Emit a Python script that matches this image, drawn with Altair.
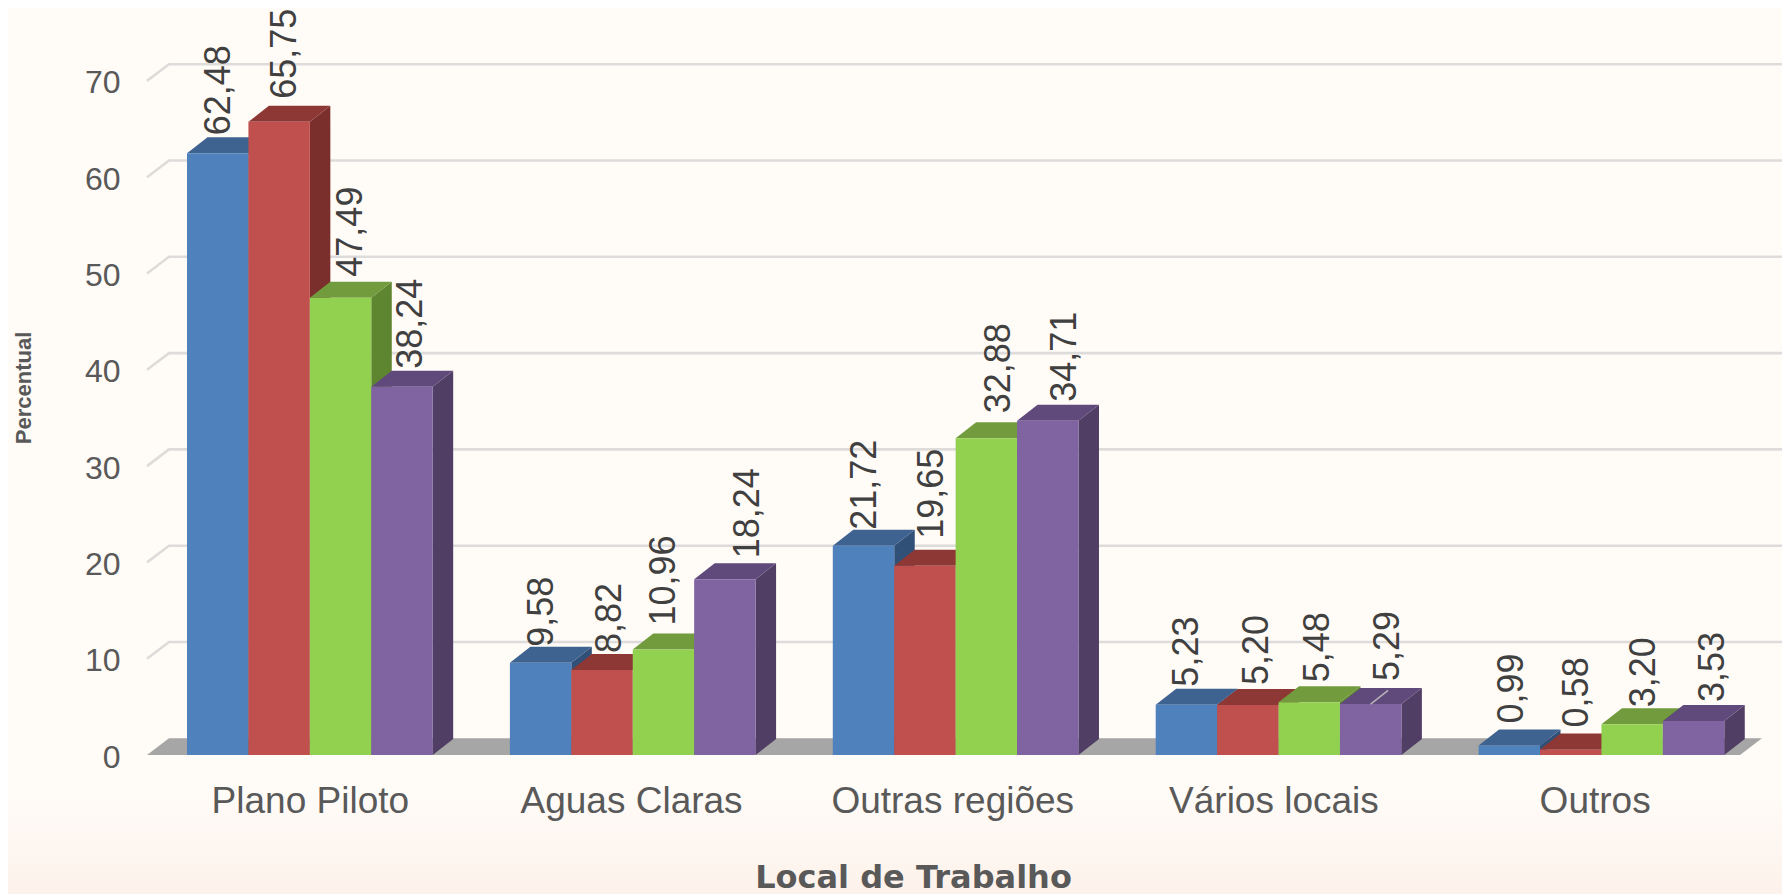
import altair as alt
import pandas as pd

# ---- values ----
categories = ["Plano Piloto", "Aguas Claras", "Outras regiões", "Vários locais", "Outros"]
serie_a = [62.48, 9.58, 21.72, 5.23, 0.99]
serie_b = [65.75, 8.82, 19.65, 5.20, 0.58]
serie_c = [47.49, 10.96, 32.88, 5.48, 3.20]
serie_d = [38.24, 18.24, 34.71, 5.29, 3.53]
y_ticks = [0, 10, 20, 30, 40, 50, 60, 70]

# ---- styling / layout ----
front = ["#4F81BD", "#C0504D", "#92D050", "#8064A2"]
top_c = ["#3E6390", "#8E3836", "#719B3C", "#604A7B"]
side_c = ["#315078", "#7B2F2D", "#5E8530", "#513E65"]
PX_X = 61.42          # px per bar width (x unit)
PX_Y = 9.63           # px per percentage point
W, H = 1635, 747
GROUP_STEP = 322.9 / PX_X
LABEL_STEP = 321.2 / PX_X
X0 = -40 / PX_X       # left edge of the floor, in bar units
X_MAX = X0 + W / PX_X
DX, DY = 20.5 / PX_X, 16 / PX_Y        # bar depth
WX, WY = 22 / PX_X, 16.7 / PX_Y        # wall depth
FLOOR_R = X_MAX - WX + 2 / PX_X
label_dx = [[1, 6, 10, 9], [1, 8, 1, 23], [1, 7, 13, 17], [1, 9, 9, 17], [3, 6, 12, 19]]
label_gap = [[2, 7, 5, 2], [0, 1, 8, 5], [0, 11, 9, 3], [2, 4, 4, 7], [6, 6, 1, 3]]
FONT = "Liberation Sans"

series = [serie_a, serie_b, serie_c, serie_d]
xs = alt.Scale(domain=[X0, X_MAX], nice=False, zero=False)
ys = alt.Scale(domain=[0, H / PX_Y], nice=False, zero=False)

centers = [i * LABEL_STEP + 2 for i in range(len(categories))]
label_expr = "[" + ",".join(f"'{c}'" for c in categories) + "][round((datum.value-2)/%f)]" % LABEL_STEP
x_axis = alt.Axis(
    values=centers, labelExpr=label_expr, domain=False, ticks=False, grid=False,
    labelFont=FONT, labelFontSize=37, labelColor="#595959", labelPadding=28, labelLimit=400,
    labelOverlap=False, labelFlush=False, zindex=1,
    title="Local de Trabalho", titleFont="DejaVu Sans", titleFontSize=32, titleFontWeight="bold",
    titleColor="#595959", titleX=766, titleY=122, titleBaseline="middle", titleAnchor="middle", titleAlign="center")
y_axis = alt.Axis(
    values=y_ticks, domain=False, ticks=False, grid=False, labelFont=FONT, labelFontSize=32,
    labelColor="#595959", labelPadding=27, labelBaseline="middle", labelOffset=2, zindex=1, labelOverlap=False,
    labelFlush=False,
    title="Percentual", titleFont=FONT, titleFontSize=22, titleFontWeight="bold",
    titleColor="#595959", titleAngle=270, titleX=-123.5, titleY=379.5, titleBaseline="middle",
    titleAnchor="middle", titleAlign="center")
X = lambda f: alt.X(f, type="quantitative", scale=xs, axis=x_axis)
Y = lambda f: alt.Y(f, type="quantitative", scale=ys, axis=y_axis)

# background
bg = alt.Chart(pd.DataFrame({"a": [0]})).mark_rect(
    fill=alt.Gradient(gradient="linear", x1=0, x2=0, y1=0, y2=1,
                      stops=[alt.GradientStop(offset=0, color="#FFFBF7"),
                             alt.GradientStop(offset=0.89, color="#FFFBF7"),
                             alt.GradientStop(offset=1, color="#FDF2EB")])
).encode(x=alt.value(-139), x2=alt.value(1643), y=alt.value(0), y2=alt.value(886))

# floor
floor = alt.Chart(pd.DataFrame({"y": [0, WY], "x": [X0, X0 + WX], "x2": [FLOOR_R - WX, FLOOR_R]})).mark_area(
    orient="horizontal", color="#A6A6A6").encode(x=X("x"), x2="x2:Q", y=Y("y"))

# gridlines
rows = []
for t in y_ticks[1:]:
    rows += [{"t": t, "x": X0, "y": t}, {"t": t, "x": X0 + WX, "y": t + WY}, {"t": t, "x": X_MAX, "y": t + WY}]
grid = alt.Chart(pd.DataFrame(rows)).mark_line(color="#DEDCDA", strokeWidth=2.6).encode(
    x=X("x"), y=Y("y"), detail="t:N")

layers = [bg, floor, grid]
labels = []
for s, vals in enumerate(series):
    side, top, fr = [], [], []
    for g, v in enumerate(vals):
        l = g * GROUP_STEP + s
        r = l + 1
        side += [{"g": g, "x": r, "y": v, "y2": 0}, {"g": g, "x": r + DX, "y": v + DY, "y2": DY}]
        top += [{"g": g, "y": v, "x": l, "x2": r}, {"g": g, "y": v + DY, "x": l + DX, "x2": r + DX}]
        fr.append({"x": l, "x2": r, "y": v, "y2": 0})
        labels.append({"x": l + 0.5 + label_dx[g][s] / PX_X, "y": v + DY + label_gap[g][s] / PX_Y,
                       "t": f"{v:.2f}".replace(".", ",")})
    layers.append(alt.Chart(pd.DataFrame(side)).mark_area(orient="vertical", color=side_c[s]).encode(
        x=X("x"), y=Y("y"), y2="y2:Q", detail="g:N"))
    layers.append(alt.Chart(pd.DataFrame(top)).mark_area(orient="horizontal", color=top_c[s]).encode(
        x=X("x"), x2="x2:Q", y=Y("y"), detail="g:N"))
    layers.append(alt.Chart(pd.DataFrame(fr)).mark_rect(color=front[s]).encode(
        x=X("x"), x2="x2:Q", y=Y("y"), y2="y2:Q"))

# stray light stroke on the purple top of the fourth group
cx = 3 * GROUP_STEP + 3.5
v = serie_d[3]
stray = alt.Chart(pd.DataFrame({"x": [cx, cx + DX * 0.85], "y": [v, v + DY * 0.85]})).mark_line(
    color="#B8B3B8", strokeWidth=1.5).encode(x=X("x"), y=Y("y"))
layers.append(stray)

text = alt.Chart(pd.DataFrame(labels)).mark_text(
    angle=270, align="left", baseline="middle", font=FONT, fontSize=36, color="#404040").encode(
    x=X("x"), y=Y("y"), text="t:N")
layers.append(text)

chart = alt.layer(*layers).properties(
    width=W, height=H,
    padding={"left": 139, "top": 0, "right": 0, "bottom": 139},
    autosize=alt.AutoSizeParams(type="none"),
    background="#FFFBF7",
).configure_view(stroke=None, clip=False)

chart.save("out.html", embed_options={"renderer": "svg", "actions": False})
